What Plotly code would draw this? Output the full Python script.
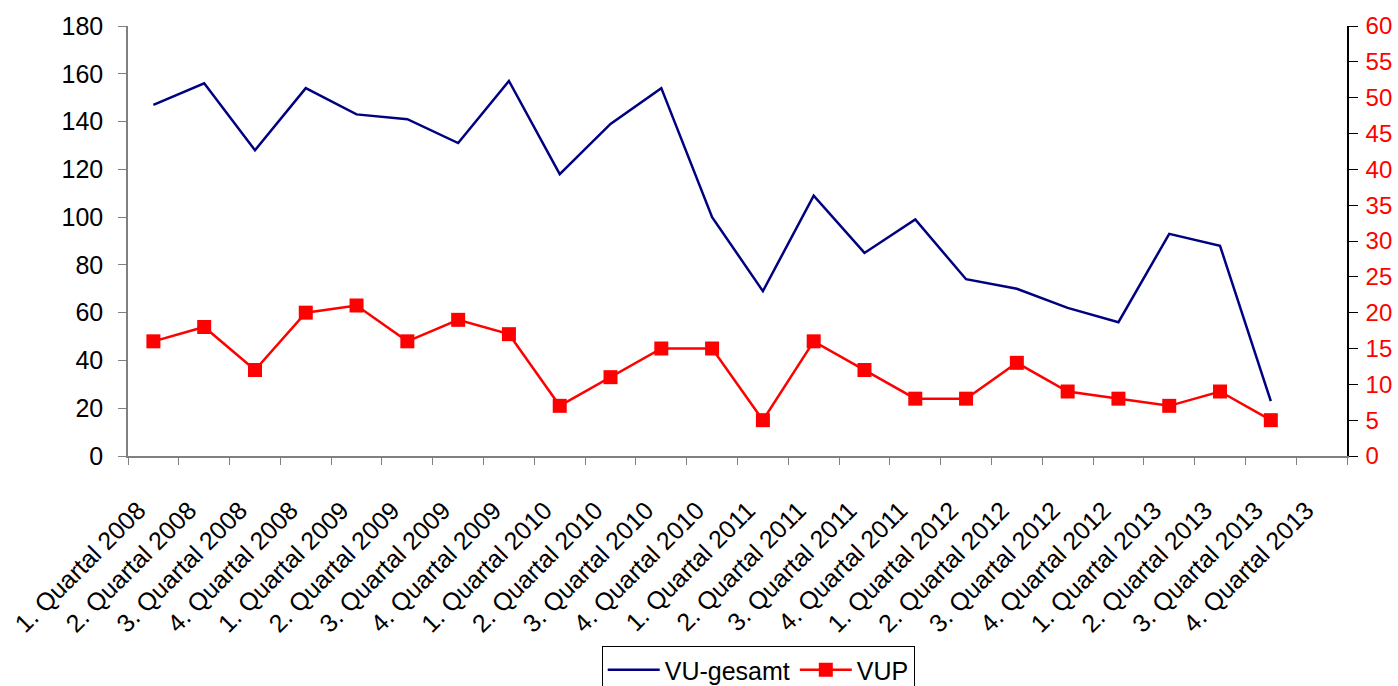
import plotly.graph_objects as go

quarters = [f"{q}. Quartal {y}" for y in range(2008, 2014) for q in range(1, 5)]
vu_gesamt = [147, 156, 128, 154, 143, 141, 131, 157, 118, 139, 154, 100,
             69, 109, 85, 99, 74, 70, 62, 56, 93, 88, 23]
vup = [16, 18, 12, 20, 21, 16, 19, 17, 7, 11, 15, 15,
       5, 16, 12, 8, 8, 13, 9, 8, 7, 9, 5]

FONT = "Arial, Liberation Sans, sans-serif"
FS = 25

fig = go.Figure()
fig.add_trace(go.Scatter(
    x=quarters[:len(vu_gesamt)], y=vu_gesamt, name="VU-gesamt",
    mode="lines", line=dict(color="#000080", width=2.5), yaxis="y"))
fig.add_trace(go.Scatter(
    x=quarters[:len(vup)], y=vup, name="VUP",
    mode="lines+markers", line=dict(color="#FF0000", width=2.5),
    marker=dict(symbol="square", size=14, color="#FF0000"), yaxis="y2"))

fig.update_layout(
    width=1398, height=686,
    margin=dict(l=128, r=51, t=26, b=230, autoexpand=False),
    paper_bgcolor="white", plot_bgcolor="white",
    font=dict(family=FONT, size=FS, color="black"),
    showlegend=True,
    legend=dict(orientation="h", x=0.517, xanchor="center", y=-0.442, yanchor="top",
                bordercolor="black", borderwidth=1, font=dict(size=FS),
                itemwidth=52, tracegroupgap=0),
    xaxis=dict(type="category", categoryorder="array", categoryarray=quarters,
               range=[-0.5, len(quarters) - 0.5], tickangle=-45, automargin=False,
               tickson="boundaries", ticks="outside", ticklen=7, tickcolor="#808080",
               showline=True, linecolor="#808080", linewidth=1.5, showgrid=False,
               ticklabelstandoff=28, ticklabelshift=-15,
               tickfont=dict(size=FS, color="black")),
    yaxis=dict(range=[0, 180], tickvals=list(range(0, 181, 20)), automargin=False,
               ticks="outside", ticklen=8, tickcolor="#808080",
               showline=True, linecolor="#808080", linewidth=1.5, showgrid=False,
               zeroline=False, ticklabelstandoff=10, tickfont=dict(size=FS, color="black")),
    yaxis2=dict(range=[0, 60], tickvals=list(range(0, 61, 5)), overlaying="y", side="right",
                automargin=False,
                ticks="outside", ticklen=9, tickcolor="black",
                showline=True, linecolor="black", linewidth=1.5, showgrid=False,
                zeroline=False, ticklabelstandoff=3, tickfont=dict(size=24, color="#FF0000")),
)

fig.write_html(
    "out.html",
    config={"displayModeBar": False},
    post_script="document.body.style.margin='0';document.body.style.overflow='hidden';",
)
